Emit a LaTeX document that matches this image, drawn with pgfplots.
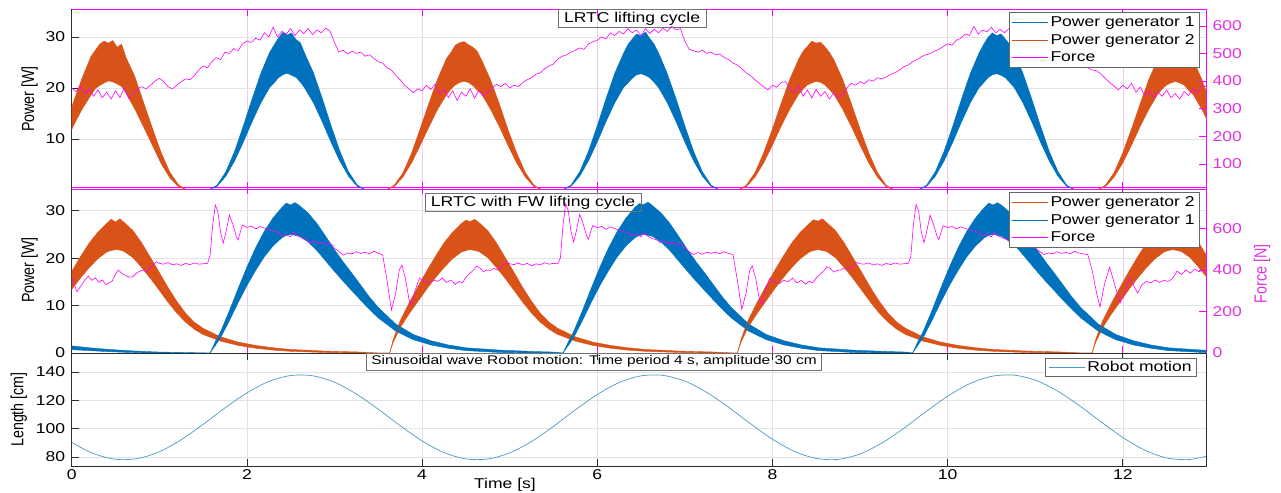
\documentclass[border=0pt]{standalone}
\usepackage{fontspec}
\setmainfont{Liberation Sans}[FakeStretch=1.23]
\newfontfamily\lblfont{Liberation Sans}
\usepackage{graphicx}
\usepackage{pgfplots}
\pgfplotsset{compat=1.18}
\usepackage{pgfplotstable}
\usepgfplotslibrary{fillbetween}

\definecolor{cblue}{RGB}{0,114,189}
\definecolor{corange}{RGB}{217,83,25}
\definecolor{cmag}{RGB}{255,0,255}
\definecolor{cmagt}{RGB}{226,50,226}
\definecolor{crobot}{RGB}{75,155,195}
\definecolor{cgrid}{RGB}{226,226,226}
\definecolor{cpgrid}{RGB}{240,205,240}
\definecolor{cframe}{RGB}{45,45,45}
\newcommand\fs{\fontsize{14.3}{16}\selectfont}
\newcommand\fss{\fontsize{12.6}{14}\selectfont}

% ---------------- TOP PANEL DATA ----------------
\pgfplotstableread{
t u l
-0.48 0 0
-0.38 0.9 0.6
-0.28 3.4 2.5
-0.18 7.3 5.3
-0.08 12.0 8.8
0.02 17.3 12.6
0.12 22.0 15.9
0.22 26.2 18.6
0.27 27.4 19.9
0.32 28.6 20.5
0.37 29.2 21.0
0.42 28.8 21.4
0.47 29.3 21.2
0.52 28.0 20.8
0.57 28.6 20.3
0.62 26.0 19.0
0.72 22.3 15.9
0.82 17.2 12.4
0.92 12.2 8.8
1.02 7.4 5.2
1.12 3.5 2.4
1.22 1.0 0.6
1.32 0 0
3.58 0 0
3.68 0.9 0.6
3.78 3.3 2.5
3.88 7.2 5.3
3.98 12.1 8.8
4.08 17.1 12.4
4.18 21.9 15.9
4.28 25.8 18.7
4.33 27.0 19.8
4.38 28.4 20.6
4.43 28.9 21.1
4.48 29.1 21.3
4.53 28.5 21.1
4.58 28.0 20.5
4.63 27.2 19.6
4.68 25.5 18.8
4.78 21.7 15.9
4.88 17.0 12.5
4.98 11.9 8.8
5.08 7.3 5.3
5.18 3.4 2.5
5.28 0.9 0.6
5.38 0 0
7.6 0 0
7.7 0.9 0.6
7.8 3.4 2.5
7.9 7.3 5.3
8.0 12.0 8.8
8.1 17.0 12.5
8.2 21.8 15.9
8.3 25.7 18.8
8.35 27.2 19.8
8.4 28.2 20.6
8.45 29.2 21.0
8.5 28.8 21.3
8.55 29.0 21.1
8.6 28.1 20.6
8.65 27.0 19.7
8.7 25.6 18.8
8.8 21.8 15.9
8.9 17.0 12.5
9.0 12.0 8.8
9.1 7.3 5.3
9.2 3.4 2.5
9.3 0.9 0.6
9.4 0 0
11.7 0 0
11.8 0.9 0.6
11.9 3.4 2.5
12.0 7.3 5.3
12.1 12.0 8.8
12.2 17.0 12.5
12.3 21.8 15.9
12.4 25.6 18.8
12.45 27.0 19.8
12.5 28.3 20.6
12.55 29.0 21.0
12.6 28.9 21.3
12.65 28.6 21.0
12.7 28.0 20.6
12.75 27.0 19.6
12.8 25.6 18.8
12.9 21.8 15.9
13.0 17.0 12.5
13.1 12.0 8.8
}\topO

\pgfplotstableread{
t u l
-0.2 0 0
1.56 0 0
1.66 0.95 0.7
1.76 3.6 2.7
1.86 7.6 5.7
1.96 12.6 9.4
2.06 17.9 13.4
2.16 22.9 17.1
2.26 27.0 20.1
2.31 28.4 21.0
2.36 29.8 22.0
2.41 30.9 22.6
2.46 30.4 22.9
2.51 30.8 22.5
2.56 29.5 22.1
2.61 28.9 21.2
2.66 26.8 20.0
2.76 23.0 17.1
2.86 18.0 13.4
2.96 12.7 9.4
3.06 7.7 5.7
3.16 3.6 2.7
3.26 1.0 0.7
3.36 0 0
5.6 0 0
5.7 0.95 0.7
5.8 3.6 2.7
5.9 7.6 5.7
6.0 12.6 9.4
6.1 17.9 13.4
6.2 22.9 17.1
6.3 26.8 20.1
6.35 28.5 21.0
6.4 29.6 21.9
6.45 30.6 22.6
6.5 30.2 22.8
6.55 31.0 22.5
6.6 29.7 22.0
6.65 28.6 21.1
6.7 26.9 20.1
6.8 22.8 17.1
6.9 17.9 13.4
7.0 12.6 9.4
7.1 7.6 5.7
7.2 3.6 2.7
7.3 0.95 0.7
7.4 0 0
9.66 0 0
9.76 0.95 0.7
9.86 3.6 2.7
9.96 7.6 5.7
10.06 12.6 9.4
10.16 17.9 13.4
10.26 22.9 17.1
10.36 26.9 20.1
10.41 28.5 21.0
10.46 29.9 22.0
10.51 30.8 22.6
10.56 30.3 22.8
10.61 30.6 22.5
10.66 29.6 22.0
10.71 28.5 21.1
10.76 26.9 20.1
10.86 22.9 17.1
10.96 17.9 13.4
11.06 12.6 9.4
11.16 7.6 5.7
11.26 3.6 2.7
11.36 0.95 0.7
11.46 0 0
13.2 0 0
}\topB

\pgfplotstableread{
t F
0 375
0.05 362
0.1 380
0.15 355
0.2 372
0.25 345
0.3 368
0.35 340
0.4 360
0.45 335
0.5 365
0.55 340
0.6 375
0.65 338
0.7 352
0.75 372
0.8 380
0.85 372
0.9 385
0.95 400
1.0 410
1.05 398
1.1 380
1.15 372
1.2 385
1.25 398
1.3 408
1.35 405
1.4 420
1.45 440
1.5 455
1.55 448
1.6 470
1.65 485
1.7 478
1.75 505
1.8 500
1.85 518
1.9 510
1.95 535
2.0 545
2.05 540
2.1 555
2.15 548
2.2 575
2.25 560
2.3 595
2.35 560
2.4 580
2.45 570
2.5 590
2.55 565
2.6 585
2.65 572
2.7 590
2.75 568
2.8 585
2.85 575
2.9 592
2.95 580
3.0 540
3.05 505
3.1 512
3.15 498
3.2 508
3.25 500
3.3 505
3.35 490
3.4 495
3.45 482
3.5 470
3.55 465
3.6 448
3.65 440
3.7 420
3.75 405
3.8 385
3.85 372
3.9 358
3.95 372
4.0 365
4.05 385
4.1 370
4.15 390
4.2 355
4.25 370
4.3 340
4.35 365
4.4 330
4.45 360
4.5 345
4.55 372
4.6 338
4.65 368
4.7 345
4.75 362
4.8 375
4.85 388
4.9 380
4.95 392
5.0 375
5.05 385
5.1 380
5.15 395
5.2 405
5.25 412
5.3 425
5.35 430
5.4 445
5.45 455
5.5 462
5.55 480
5.6 490
5.65 495
5.7 505
5.75 512
5.8 520
5.85 515
5.9 535
5.95 542
6.0 548
6.05 560
6.1 552
6.15 575
6.2 565
6.25 580
6.3 570
6.35 590
6.4 575
6.45 585
6.5 565
6.55 590
6.6 572
6.65 588
6.7 575
6.75 592
6.8 580
6.85 598
6.9 585
6.95 590
7.0 545
7.05 515
7.1 510
7.15 505
7.2 512
7.25 500
7.3 505
7.35 495
7.4 498
7.45 485
7.5 478
7.55 465
7.6 458
7.65 445
7.7 430
7.75 420
7.8 405
7.85 392
7.9 380
7.95 368
8.0 385
8.05 378
8.1 395
8.15 398
8.2 372
8.25 360
8.3 385
8.35 345
8.4 368
8.45 338
8.5 370
8.55 345
8.6 362
8.65 335
8.7 358
8.75 340
8.8 352
8.85 375
8.9 392
8.95 385
9.0 398
9.05 390
9.1 405
9.15 400
9.2 412
9.25 408
9.3 415
9.35 425
9.4 430
9.45 440
9.5 452
9.55 458
9.6 470
9.65 478
9.7 488
9.75 495
9.8 500
9.85 508
9.9 515
9.95 525
10.0 535
10.05 530
10.1 548
10.15 555
10.2 570
10.25 565
10.3 598
10.35 570
10.4 585
10.45 578
10.5 595
10.55 575
10.6 588
10.65 575
10.7 590
10.75 578
10.8 592
10.85 580
10.9 585
10.95 560
11.0 525
11.05 512
11.1 505
11.15 510
11.2 500
11.25 505
11.3 495
11.35 490
11.4 480
11.45 470
11.5 462
11.55 455
11.6 448
11.65 440
11.7 438
11.75 425
11.8 410
11.85 395
11.9 382
11.95 368
12.0 385
12.05 372
12.1 392
12.15 360
12.2 378
12.25 348
12.3 365
12.35 340
12.4 360
12.45 345
12.5 368
12.55 340
12.6 355
12.65 335
12.7 362
12.75 348
12.8 372
12.85 355
12.9 385
12.95 380
}\topF

% ---------------- MIDDLE PANEL DATA ----------------
\pgfplotstableread{
t u l
-0.42 0 0
-0.38 2.8 2.2
-0.3 6.8 5.3
-0.2 10.5 8.2
-0.1 13.9 10.8
0 17.2 13.4
0.1 20.3 15.8
0.2 23.2 18.0
0.3 25.5 19.9
0.4 27.3 21.3
0.45 28.2 21.6
0.5 27.6 21.8
0.55 28.3 21.7
0.6 27.5 21.4
0.7 25.8 20.1
0.8 23.2 18.0
0.9 20.1 15.7
1.0 17.0 13.2
1.1 13.8 10.7
1.2 10.9 8.4
1.3 8.4 6.5
1.4 6.5 5.0
1.5 5.2 3.9
1.7 3.4 2.5
1.9 2.3 1.6
2.1 1.6 1.0
2.3 1.1 0.6
2.5 0.75 0.35
2.9 0.4 0.1
3.3 0.2 0
3.5 0 0
3.63 0 0
3.67 2.8 2.2
3.75 6.8 5.3
3.85 10.5 8.2
3.95 13.9 10.8
4.05 17.2 13.4
4.15 20.3 15.8
4.25 23.2 18.0
4.35 25.5 19.9
4.45 27.3 21.3
4.5 28.0 21.6
4.55 27.7 21.8
4.6 28.2 21.6
4.65 27.5 21.4
4.75 25.8 20.1
4.85 23.2 18.0
4.95 20.1 15.7
5.05 17.0 13.2
5.15 13.8 10.7
5.25 10.9 8.4
5.35 8.4 6.5
5.45 6.5 5.0
5.55 5.2 3.9
5.75 3.4 2.5
5.95 2.3 1.6
6.15 1.6 1.0
6.35 1.1 0.6
6.55 0.75 0.35
6.95 0.4 0.1
7.35 0.2 0
7.55 0 0
7.6 0 0
7.64 2.8 2.2
7.72 6.8 5.3
7.82 10.5 8.2
7.92 13.9 10.8
8.02 17.2 13.4
8.12 20.3 15.8
8.22 23.2 18.0
8.32 25.5 19.9
8.42 27.3 21.3
8.47 28.1 21.6
8.52 27.8 21.8
8.57 28.3 21.6
8.62 27.5 21.4
8.72 25.8 20.1
8.82 23.2 18.0
8.92 20.1 15.7
9.02 17.0 13.2
9.12 13.8 10.7
9.22 10.9 8.4
9.32 8.4 6.5
9.42 6.5 5.0
9.52 5.2 3.9
9.72 3.4 2.5
9.92 2.3 1.6
10.12 1.6 1.0
10.32 1.1 0.6
10.52 0.75 0.35
10.92 0.4 0.1
11.32 0.2 0
11.52 0 0
11.65 0 0
11.69 2.8 2.2
11.77 6.8 5.3
11.87 10.5 8.2
11.97 13.9 10.8
12.07 17.2 13.4
12.17 20.3 15.8
12.27 23.2 18.0
12.37 25.5 19.9
12.47 27.3 21.3
12.52 28.1 21.6
12.57 27.8 21.8
12.62 28.2 21.6
12.67 27.5 21.4
12.77 25.8 20.1
12.87 23.2 18.0
12.97 20.1 15.7
13.07 17.0 13.2
}\midO

\pgfplotstableread{
t u l
-0.1 1.55 0.75
0 1.5 0.7
0.2 1.1 0.5
0.4 0.8 0.3
0.6 0.55 0.15
0.8 0.35 0.05
1.0 0.2 0
1.3 0.1 0
1.55 0 0
1.58 0 0
1.64 2.4 1.6
1.7 4.5 3.2
1.8 8.9 6.8
1.9 13.6 10.6
2.0 18.1 14.2
2.1 22.2 17.4
2.2 25.7 20.3
2.3 28.5 22.6
2.4 30.7 24.3
2.45 31.6 24.8
2.5 31.2 25.0
2.55 31.7 24.8
2.6 31.1 24.6
2.7 29.5 23.4
2.8 27.3 21.6
2.9 24.6 19.4
3.0 21.8 17.2
3.1 19.2 15.1
3.2 16.8 13.1
3.3 14.3 11.1
3.4 11.8 9.2
3.5 9.6 7.4
3.7 6.1 4.6
3.9 3.9 2.8
4.1 2.6 1.7
4.3 1.7 1.0
4.5 1.1 0.5
4.9 0.6 0.1
5.3 0.3 0
5.5 0.2 0
5.61 0 0
5.67 2.4 1.6
5.73 4.5 3.2
5.83 8.9 6.8
5.93 13.6 10.6
6.03 18.1 14.2
6.13 22.2 17.4
6.23 25.7 20.3
6.33 28.5 22.6
6.43 30.7 24.3
6.48 31.5 24.8
6.53 31.3 25.0
6.58 31.8 24.8
6.63 31.1 24.6
6.73 29.5 23.4
6.83 27.3 21.6
6.93 24.6 19.4
7.03 21.8 17.2
7.13 19.2 15.1
7.23 16.8 13.1
7.33 14.3 11.1
7.43 11.8 9.2
7.53 9.6 7.4
7.73 6.1 4.6
7.93 3.9 2.8
8.13 2.6 1.7
8.33 1.7 1.0
8.53 1.1 0.5
8.93 0.6 0.1
9.33 0.3 0
9.53 0.2 0
9.6 0 0
9.66 2.4 1.6
9.72 4.5 3.2
9.82 8.9 6.8
9.92 13.6 10.6
10.02 18.1 14.2
10.12 22.2 17.4
10.22 25.7 20.3
10.32 28.5 22.6
10.42 30.7 24.3
10.47 31.6 24.8
10.52 31.2 25.0
10.57 31.7 24.8
10.62 31.1 24.6
10.72 29.5 23.4
10.82 27.3 21.6
10.92 24.6 19.4
11.02 21.8 17.2
11.12 19.2 15.1
11.22 16.8 13.1
11.32 14.3 11.1
11.42 11.8 9.2
11.52 9.6 7.4
11.72 6.1 4.6
11.92 3.9 2.8
12.12 2.6 1.7
12.32 1.7 1.0
12.52 1.1 0.5
12.92 0.6 0.1
13.32 0.3 0
}\midB

\pgfplotstableread{
t F
0.00 361
0.03 330
0.06 295
0.10 320
0.14 345
0.19 371
0.23 350
0.27 362
0.31 340
0.35 352
0.39 330
0.42 337
0.46 345
0.50 380
0.53 400
0.57 385
0.62 372
0.66 365
0.70 368
0.74 385
0.78 395
0.82 400
0.86 392
0.90 412
0.94 430
0.97 440
1.00 432
1.05 428
1.10 436
1.15 425
1.20 430
1.25 422
1.30 432
1.35 426
1.40 434
1.45 428
1.50 430
1.55 432
1.58 470
1.61 620
1.64 713
1.67 680
1.70 580
1.73 530
1.76 580
1.80 665
1.84 620
1.88 560
1.90 545
1.93 590
1.95 617
2.00 605
2.05 612
2.10 598
2.15 610
2.20 602
2.25 595
2.30 588
2.35 583
2.40 565
2.45 570
2.50 560
2.53 583
2.58 565
2.63 555
2.68 545
2.72 530
2.77 540
2.82 528
2.87 535
2.90 522
2.95 530
3.00 505
3.05 490
3.10 472
3.15 482
3.20 478
3.25 488
3.30 480
3.35 485
3.40 478
3.45 490
3.50 482
3.55 472
3.60 350
3.65 207
3.70 290
3.74 400
3.77 424
3.81 360
3.85 260
3.88 231
3.92 300
3.97 361
4.02 345
4.08 337
4.13 352
4.18 345
4.23 361
4.28 340
4.33 352
4.38 330
4.42 345
4.46 337
4.50 365
4.55 385
4.60 405
4.62 419
4.66 410
4.70 392
4.74 400
4.78 398
4.82 408
4.86 400
4.90 415
4.94 428
4.97 438
5.00 430
5.05 426
5.10 434
5.15 424
5.20 432
5.25 420
5.30 430
5.35 425
5.40 435
5.45 428
5.50 432
5.55 430
5.58 460
5.61 620
5.64 720
5.67 685
5.70 585
5.73 535
5.76 585
5.80 668
5.84 622
5.88 562
5.90 548
5.93 592
5.95 615
6.00 604
6.05 610
6.10 596
6.15 608
6.20 600
6.25 592
6.30 586
6.35 580
6.40 566
6.45 572
6.50 560
6.53 580
6.58 562
6.63 552
6.68 545
6.72 532
6.77 540
6.82 526
6.87 534
6.90 522
6.95 528
7.00 505
7.05 488
7.10 474
7.15 484
7.20 476
7.25 486
7.30 480
7.35 487
7.40 478
7.45 488
7.50 480
7.55 474
7.60 350
7.65 210
7.70 290
7.74 398
7.77 420
7.81 358
7.85 262
7.88 235
7.92 302
7.97 360
8.02 342
8.08 335
8.13 350
8.18 344
8.23 360
8.28 338
8.33 350
8.38 332
8.42 346
8.46 338
8.50 362
8.55 382
8.60 402
8.62 416
8.66 408
8.70 390
8.74 398
8.78 400
8.82 410
8.86 402
8.90 414
8.94 428
8.97 436
9.00 430
9.05 428
9.10 434
9.15 424
9.20 430
9.25 422
9.30 432
9.35 426
9.40 434
9.45 428
9.50 430
9.55 432
9.58 465
9.61 620
9.64 716
9.67 682
9.70 582
9.73 532
9.76 582
9.80 664
9.84 620
9.88 560
9.90 546
9.93 590
9.95 614
10.00 604
10.05 610
10.10 598
10.15 608
10.20 600
10.25 594
10.30 588
10.35 582
10.40 566
10.45 570
10.50 560
10.53 582
10.58 564
10.63 554
10.68 546
10.72 530
10.77 540
10.82 528
10.87 534
10.90 522
10.95 530
11.00 505
11.05 490
11.10 474
11.15 482
11.20 478
11.25 488
11.30 480
11.35 485
11.40 478
11.45 490
11.50 482
11.55 478
11.60 474
11.65 400
11.70 290
11.74 222
11.79 330
11.85 414
11.90 340
11.97 241
12.03 300
12.08 366
12.13 320
12.17 289
12.22 330
12.27 345
12.32 338
12.37 352
12.42 340
12.47 350
12.52 345
12.57 360
12.62 395
12.67 378
12.72 400
12.77 385
12.82 405
12.87 392
12.92 402
12.95 398
}\midF

% ---------------- BOTTOM PANEL DATA ----------------
\pgfplotstableread{
t L
0 90.2
0.25 82.36
0.5 78.36
0.75 78.82
1.0 83.65
1.25 92.12
1.5 102.99
1.75 114.61
2.0 125.24
2.25 133.31
2.5 137.49
2.75 137.31
3.0 132.79
3.25 124.43
3.5 113.70
3.75 102.07
4.0 91.33
4.25 83.11
4.5 78.61
4.75 78.53
5.0 82.85
5.25 90.93
5.5 101.61
5.75 113.23
6.0 124.05
6.25 132.53
6.5 137.26
6.75 137.60
7.0 133.55
7.25 125.59
7.5 115.08
7.75 103.46
8.0 92.53
8.25 83.93
8.5 78.93
8.75 78.29
9.0 82.12
9.25 89.82
9.5 100.25
9.75 111.85
10.0 122.85
10.25 131.67
10.5 136.90
10.75 137.80
11.0 134.25
11.25 126.72
11.5 116.43
11.75 104.85
12.0 93.76
12.25 84.79
12.5 79.31
12.75 78.13
12.95 80.43
}\robot

\pgfplotsset{
  base/.style={
    scale only axis, width=1134.3bp, xmin=0, xmax=12.95,
    tick align=inside, major tick length=7bp,
    /pgf/number format/assume math mode=true,
    tick label style={font=\fs}, label style={font=\fs},
    xtick={0,2,...,12},
    every axis title shift=0pt,
  },
  powerax/.style={
    base, xticklabels={},
    axis x line*=box, axis y line*=left,
    x axis line style={cmag, line width=0.8bp, -},
    y axis line style={cframe, line width=0.8bp, -},
    xtick style={cmag, line width=0.6bp}, ytick style={cframe, line width=0.6bp},
    xmajorgrids, ymajorgrids,
    x grid style={cpgrid, line width=0.5bp},
    y grid style={cgrid, line width=0.5bp},
    yticklabel style={xshift=-3bp},
    title style={draw=black!55, line width=0.6bp, anchor=north, inner xsep=6bp, inner ysep=2.5bp, font=\fs},
  },
  forceax/.style={
    base, axis y line*=right, axis x line=none,
    y axis line style={cmag, line width=0.8bp, -},
    ytick style={cmag, line width=0.6bp},
    yticklabel style={cmagt, xshift=3bp},
    legend cell align=left,
    legend image code/.code={\draw[##1] (0bp,0bp) -- (36bp,0bp);},
    legend style={anchor=north east, draw=black!60, line width=0.6bp, fill=white, font=\fs, inner xsep=3bp, inner ysep=2.5bp, row sep=2bp},
  },
}

\begin{document}
\begin{tikzpicture}

% ===== TOP =====
\begin{axis}[powerax, at={(71.7bp,304bp)}, anchor=south west, height=180bp,
  ymin=0.2, ymax=35.5, ytick={10,20,30},
  ylabel={\scalebox{1}[1.23]{\lblfont\fs Power [W]}},
  ylabel style={at={(axis description cs:-0.0372,0.5)}, anchor=center},
  title={LRTC lifting cycle}, title style={at={(0.494,1)}}]
\addplot[name path=tOU, corange, line width=0.4bp] table[x=t,y=u]{\topO};
\addplot[name path=tOL, corange, line width=0.4bp] table[x=t,y=l]{\topO};
\addplot[fill=corange, draw=none] fill between[of=tOU and tOL];
\addplot[name path=tBU, cblue, line width=0.4bp] table[x=t,y=u]{\topB};
\addplot[name path=tBL, cblue, line width=0.4bp] table[x=t,y=l]{\topB};
\addplot[fill=cblue, draw=none] fill between[of=tBU and tBL];
\end{axis}
\begin{axis}[forceax, at={(71.7bp,304bp)}, anchor=south west, height=180bp,
  ymin=9.4, ymax=661, ytick={100,200,...,600},
  legend style={at={(0.9947,0.983)}}]
\addlegendimage{draw=cblue, line width=0.6bp}
\addlegendentry{Power generator 1}
\addlegendimage{draw=corange, line width=0.6bp}
\addlegendentry{Power generator 2}
\addplot[draw=cmag, line width=0.6bp] table[x=t,y=F]{\topF};
\addlegendentry{Force}
\end{axis}

% ===== MIDDLE =====
\begin{axis}[powerax, at={(71.7bp,140bp)}, anchor=south west, height=166bp,
  ymin=0, ymax=35, ytick={0,10,20,30},
  ylabel={\scalebox{1}[1.23]{\lblfont\fs Power [W]}},
  ylabel style={at={(axis description cs:-0.0372,0.5)}, anchor=center},
  title={LRTC with FW lifting cycle}, title style={at={(0.4067,0.964)}}]
\addplot[name path=mOU, corange, line width=0.4bp] table[x=t,y=u]{\midO};
\addplot[name path=mOL, corange, line width=0.4bp] table[x=t,y=l]{\midO};
\addplot[fill=corange, draw=none] fill between[of=mOU and mOL];
\addplot[name path=mBU, cblue, line width=0.4bp] table[x=t,y=u]{\midB};
\addplot[name path=mBL, cblue, line width=0.4bp] table[x=t,y=l]{\midB};
\addplot[fill=cblue, draw=none] fill between[of=mBU and mBL];
\end{axis}
\begin{axis}[forceax, at={(71.7bp,140bp)}, anchor=south west, height=166bp,
  ymin=0, ymax=800, ytick={0,200,400,600},
  ylabel={\scalebox{1}[1.23]{\lblfont\fs Force [N]}},
  ylabel style={at={(axis description cs:1.0494,0.476)}, anchor=center, cmagt},
  legend style={at={(0.9947,0.970)}}]
\addlegendimage{draw=corange, line width=0.6bp}
\addlegendentry{Power generator 2}
\addlegendimage{draw=cblue, line width=0.6bp}
\addlegendentry{Power generator 1}
\addplot[draw=cmag, line width=0.6bp] table[x=t,y=F]{\midF};
\addlegendentry{Force}
\end{axis}

% ===== BOTTOM =====
\begin{axis}[base, at={(71.7bp,27bp)}, anchor=south west, height=113bp,
  ymin=73.6, ymax=153.4, ytick={80,100,120,140}, ytick pos=left,
  axis line style={cframe, line width=0.9bp},
  tick style={cframe, line width=0.6bp},
  xmajorgrids, ymajorgrids, grid style={cgrid, line width=0.5bp},
  yticklabel style={xshift=-3bp},
  ylabel={\scalebox{1}[1.23]{\lblfont\fs Length [cm]}},
  ylabel style={at={(axis description cs:-0.0465,0.5)}, anchor=center},
  xlabel={Time [s]},
  xlabel style={at={(axis description cs:0.382,0)}, anchor=north, yshift=-8.5bp},
  title={Sinusoidal wave Robot motion: Time period 4 s, amplitude 30 cm},
  title style={at={(0.4605,1)}, draw=black!55, line width=0.6bp, anchor=north, inner xsep=5bp, inner ysep=2.5bp, font=\fss},
  legend cell align=left,
  legend image code/.code={\draw[#1] (0bp,0bp) -- (36bp,0bp);},
  legend style={at={(0.992,0.956)}, anchor=north east, draw=black!60, line width=0.6bp, fill=white, font=\fs, inner xsep=3bp, inner ysep=1bp}]
\addplot[draw=crobot, line width=0.7bp, smooth] table[x=t,y=L]{\robot};
\addlegendentry{Robot motion}
\end{axis}
\pgfresetboundingbox
\path (0,0) rectangle (1281bp,493bp);
\end{tikzpicture}
\end{document}
